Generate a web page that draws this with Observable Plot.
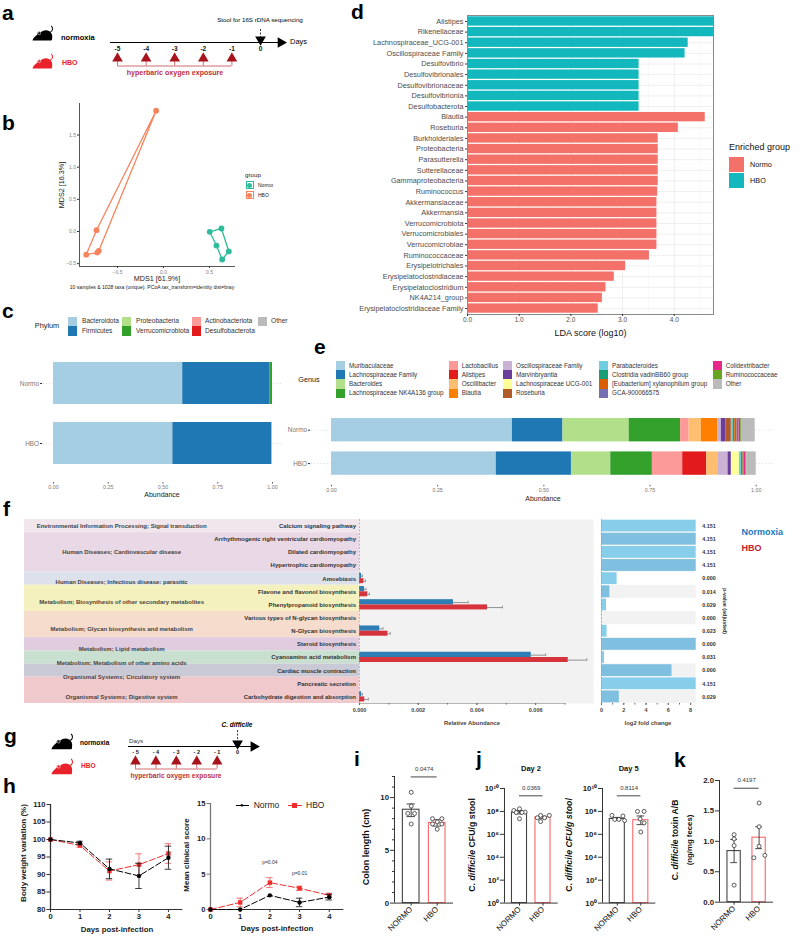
<!DOCTYPE html>
<html><head><meta charset="utf-8">
<script src="https://cdn.jsdelivr.net/npm/d3@7"></script>
<script src="https://cdn.jsdelivr.net/npm/@observablehq/plot@0.6"></script>
<style>
html,body{margin:0;padding:0;background:#fff}
#page{position:relative;width:800px;height:941px;overflow:hidden;font-family:"Liberation Sans",Arial,sans-serif}
.t{position:absolute;white-space:nowrap;line-height:1}
.s{position:absolute;box-sizing:border-box}
</style></head><body><div id="page"></div>
<script>
// ---------- data ----------
const pcoaNormoX=[0.503,0.63,0.71,0.638,0.576], pcoaNormoY=[-0.005,0.047,-0.31,-0.435,-0.218];
const pcoaHboX=[-0.08,-0.728,-0.84,-0.72,-0.703], pcoaHboY=[1.877,0.02,-0.36,-0.327,-0.30];

const phylumTaxa=["Bacteroidota","Firmicutes","Proteobacteria","Verrucomicrobiota","Actinobacteriota","Desulfobacterota","Other"];
const phylumColors=["#A6CEE3","#1F78B4","#B2DF8A","#33A02C","#FB9A99","#E31A1C","#BBBBBB"];
const phylumNormo=[0.59,0.40,0.001,0.009,0,0,0];
const phylumHBO=[0.545,0.452,0,0,0.003,0,0];

const ldaNames=["Alistipes","Rikenellaceae","Lachnospiraceae_UCG-001","Oscillospiraceae Family","Desulfovibrio","Desulfovibrionales","Desulfovibrionaceae","Desulfovibrionia","Desulfobacterota","Blautia","Roseburia","Burkholderiales","Proteobacteria","Parasutterella","Sutterellaceae","Gammaproteobacteria","Ruminococcus","Akkermansiaceae","Akkermansia","Verrucomicrobiota","Verrucomicrobiales","Verrucomicrobiae","Ruminococcaceae","Erysipelotrichales","Erysipelatoclostridiaceae","Erysipelatoclostridium","NK4A214_group","Erysipelatoclostridiaceae Family"];
const ldaScores=[4.76,4.76,4.27,4.21,3.32,3.32,3.32,3.32,3.32,4.6,4.08,3.69,3.69,3.69,3.69,3.69,3.68,3.665,3.665,3.665,3.665,3.665,3.52,3.06,2.84,2.68,2.61,2.53];
const ldaGroups=[...Array(9).fill("HBO"),...Array(19).fill("Normo")];

const genusTaxa=["Muribaculaceae","Lachnospiraceae Family","Bacteroides","Lachnospiraceae NK4A136 group","Lactobacillus","Alistipes","Oscillibacter","Blautia","Oscillospiraceae Family","Marvinbryantia","Lachnospiraceae UCG-001","Roseburia","Parabacteroides","Clostridia vadinBB60 group","[Eubacterium] xylanophilum group","GCA-900066575","Colidextribacter","Ruminococcaceae","Other"];
const genusColors=["#A6CEE3","#1F78B4","#B2DF8A","#33A02C","#FB9A99","#E31A1C","#FDBF6F","#FF7F00","#CAB2D6","#6A3D9A","#FFFF99","#B15928","#6FCFE0","#1B9E77","#D95F02","#7570B3","#E7298A","#66A61E","#BBBBBB"];
const genusNormo=[.426,.119,.156,.121,.020,0,.029,.039,.008,.011,0,.0125,.004,.004,.0055,.0047,.004,.003,.031];
const genusHBO=[.388,.177,.0926,.098,.0714,.0565,.026,0,.0243,.0078,.0188,0,.0047,.004,.001,.001,.005,.002,.022];

const pathGroups=["Environmental Information Processing; Signal transduction","Human Diseases; Cardiovascular disease","Human Diseases; Infectious disease: parasitic","Metabolism; Biosynthesis of other secondary metabolites","Metabolism; Glycan biosynthesis and metabolism","Metabolism; Lipid metabolism","Metabolism; Metabolism of other amino acids","Organismal Systems; Circulatory system","Organismal Systems; Digestive system"];
const pathGroupStart=[0,1,4,5,7,9,10,11,12], pathGroupEnd=[1,4,5,7,9,10,11,12,14];
const pathGroupLabelRow=[0.5,2.5,4.73,6.27,8.35,9.87,10.95,11.99,13.5];
const pathGroupColors=["#F1E6EC","#E9D8E5","#DDE1EC","#F5F1BE","#F5DCCD","#E0CCDE","#C9DFCF","#CACAD6","#EFC9CC"];
const pathways=["Calcium signaling pathway","Arrhythmogenic right ventricular cardiomyopathy","Dilated cardiomyopathy","Hypertrophic cardiomyopathy","Amoebiasis","Flavone and flavonol biosynthesis","Phenylpropanoid biosynthesis","Various types of N-glycan biosynthesis","N-Glycan biosynthesis","Steroid biosynthesis","Cyanoamino acid metabolism","Cardiac muscle contraction","Pancreatic secretion","Carbohydrate digestion and absorption"];
const abundNormo=[0,0,0,0,.00007,.00017,.0032,0,.00069,0,.00585,0,0,.00007];
const abundNormoHi=[0,0,0,0,.0001,.00022,.0037,0,.0008,0,.00634,0,0,.0001];
const abundHBO=[0,0,0,0,.00015,.00028,.00436,0,.00097,0,.00711,0,0,.00018];
const abundHBOHi=[0,0,0,0,.0002,.00034,.00487,0,.00105,0,.00774,0,0,.0003];
const log2fc=[8.5,8.5,8.5,8.5,1.4,.75,.45,.03,.5,8.5,.27,6.33,8.5,1.6];
const pAdj=["4.151","4.151","4.151","4.151","0.000","0.014","0.029","0.000","0.023","0.000","0.031","0.000","4.151","0.029"];

const days=[0,1,2,3,4];
const weightNormo=[100,99,91.6,89.6,94.8], weightNormoErr=[0,.5,2.8,3.6,3.3];
const weightHBO=[100,98.3,91,92.8,96], weightHBOErr=[0,.5,2.6,3.1,2.8];
const clinicalNormo=[0,0,2,1,1.75], clinicalNormoErr=[0,0,0,.6,.4];
const clinicalHBO=[0,1,3.8,3,2], clinicalHBOErr=[0,.6,.7,.3,.3];

const groupNames=["NORMO","HBO"];
const colonBars=[8.85,7.6], colonLow=[8.2,7.3], colonHigh=[9.4,7.9];
const colonNormo=[10.5,9.2,8.5,8.5,7.5], colonNormoJit=[0,0,-.13,.13,0];
const colonHBO=[8,8,7.7,7.5,7.5,7], colonHBOJit=[-.18,.18,0,-.18,.18,0];
const day2Bars=[8e7,3e7], day2Low=[6e7,2.3e7], day2High=[1.2e8,3.8e7];
const day2Normo=[1.7e8,1.2e8,8.7e7,8.1e7,8.1e7,2.3e7], day2NormoJit=[0,-.24,.24,-.14,.11,0];
const day2HBO=[4.5e7,4.5e7,2.8e7,2.8e7,1.3e7], day2HBOJit=[-.1,.27,-.24,.07,-.1];
const day5Bars=[2.2e7,1.7e7], day5Low=[1.8e7,7e6], day5High=[3e7,4e7];
const day5Normo=[4.5e7,4e7,2e7,2e7,1.6e7], day5NormoJit=[-.23,.24,-.11,.07,.31];
const day5HBO=[1e8,1e8,2.2e7,1e7,1.6e6], day5HBOJit=[-.14,.14,-.03,.14,0];
const toxinBars=[.84,1.06], toxinLow=[.65,.88], toxinHigh=[1.03,1.24];
const toxinNormo=[1.11,1.04,.93,.28], toxinNormoJit=[0,0,0,0];
const toxinHBO=[1.63,1.24,.92,.73,.77], toxinHBOJit=[0,0,0,-.21,.23];

const dayTicks=[-5,-4,-3,-2,-1,0];
const exposureDays=[-5,-4,-3,-2,-1];

// ---------- helpers ----------
const FONT='"Liberation Sans",Arial,sans-serif';
const page=document.getElementById("page");
function txt(html,x,y,o={}){
  const {size=7,weight=400,color="#000",anchor="middle",rotate=0}=o;
  const d=document.createElement("div");d.className="t";d.innerHTML=html;
  const tx=anchor==="middle"?"-50%":anchor==="end"?"-100%":"0";
  d.style.cssText+=`left:${x}px;top:${y}px;font-size:${size}px;font-weight:${weight};color:${color};transform:translate(${tx},-50%) rotate(${rotate}deg);`;
  page.appendChild(d);
}
function sw(x,y,w,h,color,border){
  const d=document.createElement("div");d.className="s";
  d.style.cssText+=`left:${x}px;top:${y}px;width:${w}px;height:${h}px;background:${color};${border?`border:1px solid ${border};`:""}`;
  page.appendChild(d);
}
function panel(x0,x1,y0,y1,options,pad={}){
  const l=pad.l??0,r=pad.r??0,t=pad.t??0,b=pad.b??0;
  const svg=Plot.plot({width:x1-x0+l+r,height:y1-y0+t+b,marginLeft:l,marginRight:r,marginTop:t,marginBottom:b,
    style:{background:"transparent",overflow:"visible",fontFamily:FONT,position:"absolute",left:`${x0-l}px`,top:`${y0-t}px`,maxWidth:"none",height:`${y1-y0+t+b}px`},
    ...options});
  page.appendChild(svg);
}
function mouse(x,y,w,color){
  const d=document.createElement("div");d.className="s";d.style.cssText+=`left:${x}px;top:${y}px;width:${w}px;`;
  d.innerHTML=`<svg viewBox="0 0 24 18" width="${w}" style="display:block"><path fill="${color}" d="M0.5 17 C1 14 4 12 6 10 C5.5 7.5 8 6 9.5 8 C12 5.5 16 5 18.5 6.5 C21.5 8 22.5 11 22 14 C22 15.5 22 16.5 21 17 Z"/><path fill="none" stroke="${color}" stroke-width="1.1" d="M20 7.5 C23 6.5 23 3 21 1"/><circle cx="8" cy="9" r="1.5" fill="${color}" stroke="#fff" stroke-width=".6"/></svg>`;
  page.appendChild(d);
}
const zipRows=(names,vals,group)=>names.map((n,i)=>({taxon:n,v:vals[i],group}));

// ---------- timelines ----------
function timeline(x0,x1,axisY,xDomain,labels,lv){
  const levels=[4,-2.2];
  const arrows=exposureDays.map(d=>({d}));
  panel(x0,x1,axisY-22,axisY+40,{
    x:{domain:xDomain,axis:null},y:{domain:levels,axis:null},
    marks:[
      Plot.ruleY([0],{x1:xDomain[0],x2:xDomain[1]-.25,stroke:"#000",strokeWidth:1}),
      Plot.dot([xDomain[1]-.27],{x:d=>d,y:0,symbol:"triangle",rotate:90,r:3,fill:"#000",stroke:"#000"}),
      Plot.ruleX([0],{y1:lv.dash,y2:-.4,stroke:"#000",strokeDasharray:"2,1.5",strokeWidth:.8}),
      Plot.dot([0],{x:d=>d,y:-.3,symbol:"triangle",rotate:180,r:3,fill:"#000",stroke:"#000"}),
      Plot.text(dayTicks,{x:d=>d,y:lv.label,text:d=>labels[dayTicks.indexOf(d)],fontSize:lv.size,fontWeight:700,fill:"#111"}),
      Plot.ruleY([lv.bar],{x1:-5,x2:-1,stroke:"#CF6C72",strokeWidth:1}),
      Plot.ruleX(arrows,{x:"d",y1:lv.tip,y2:lv.bar,stroke:"#CF6C72",strokeWidth:1}),
      Plot.dot(arrows,{x:"d",y:lv.tip+.3,symbol:"triangle",r:3,fill:"#A8141C",stroke:"#A8141C"})
    ]});
}
timeline(110,288,41.5,[-5.245,.979],["-5","-4","-3","-2","-1","0"],{label:.65,tip:1.3,bar:2.35,dash:-1.3,size:6.5});
timeline(128,258.7,746,[-5.343,1.06],["- 5","- 4","- 3","- 2","- 1","0"],{label:.6,tip:1.2,bar:2.25,dash:-1.6,size:5.5});
txt("Stool for 16S rDNA sequencing",260,20,{size:6.2});
txt("Days",290,41.5,{size:7.5,anchor:"start"});
txt("hyperbaric oxygen exposure",175,74,{size:7.1,weight:700,color:"#BE2F3A"});
mouse(32,25,22,"#000");mouse(32,53,22,"#E8212B");
txt("normoxia",61,37.5,{size:7.5,weight:700,anchor:"start"});
txt("HBO",62,62,{size:7,weight:700,color:"#E8212B",anchor:"start"});
txt("Days",129,741,{size:6.2,anchor:"start",color:"#333"});
txt("<b><i>C. difficile</i></b>",237,725,{size:6.5});
txt("hyperbaric oxygen exposure",176,775.7,{size:6.7,weight:700,color:"#BE2F3A"});
mouse(51,733,23,"#000");mouse(51,758,23,"#E8212B");
txt("normoxia",80,743,{size:6.5,weight:700,anchor:"start"});
txt("HBO",81,766,{size:6.5,weight:700,color:"#E8212B",anchor:"start"});

// ---------- b PCoA ----------
const TEAL="#2FBC9A",ORANGE="#F8845D";
const pts=(xs,ys)=>xs.map((x,i)=>({x,y:ys[i]}));
panel(79,235,103,266,{
  x:{domain:[-.913,.783]},y:{domain:[-.544,1.99]},
  marks:[
    Plot.axisX({ticks:[-.5,0,.5],tickFormat:d3.format(".1f"),tickSize:2,tickPadding:2,fontSize:5,color:"#7f7f7f",stroke:"#333",label:null}),
    Plot.axisY({ticks:[-.5,0,.5,1,1.5],tickFormat:d3.format(".1f"),tickSize:2,tickPadding:1.5,fontSize:5,color:"#7f7f7f",stroke:"#333",label:null}),
    Plot.ruleX([-.913],{stroke:"#444",strokeWidth:.9}),
    Plot.ruleY([-.544],{stroke:"#444",strokeWidth:.9}),
    Plot.line(pts(pcoaHboX,pcoaHboY),{x:"x",y:"y",curve:"linear-closed",stroke:ORANGE,strokeWidth:1.3}),
    Plot.dot(pts(pcoaHboX,pcoaHboY),{x:"x",y:"y",r:2.9,fill:ORANGE}),
    Plot.line(pts(pcoaNormoX,pcoaNormoY),{x:"x",y:"y",curve:"linear-closed",stroke:TEAL,strokeWidth:1.3}),
    Plot.dot(pts(pcoaNormoX,pcoaNormoY),{x:"x",y:"y",r:2.9,fill:TEAL})
  ]});
txt("MDS2 [16.3%]",62,185,{size:7.2,rotate:-90,color:"#222"});
txt("MDS1 [61.9%]",157,279,{size:7.2,color:"#222"});
txt("10 samples &amp; 1028 taxa (unique). PCoA tax_transform=identity dist=bray",152,288,{size:5.1,color:"#222"});
txt("group",245,174.5,{size:6.2,anchor:"start",color:"#222"});
sw(245.5,180.7,8.6,8.6,"#fff",TEAL);sw(245.5,190.7,8.6,8.6,"#fff",ORANGE);
[[185,TEAL],[195,ORANGE]].forEach(([y,c])=>{const d=document.createElement("div");d.className="s";d.style.cssText+=`left:247.3px;top:${y-2.5}px;width:5px;height:5px;border-radius:50%;background:${c}`;page.appendChild(d);});
txt("Normo",258,185,{size:5,anchor:"start",color:"#222"});
txt("HBO",258,194.5,{size:5,anchor:"start",color:"#222"});

// ---------- stacked bars (c, e) ----------
function stacked(x0,x1,y0,y1,taxa,colors,normo,hbo,dx,ext){
  const rows=[...zipRows(taxa,normo,"Normo"),...zipRows(taxa,hbo,"HBO")];
  panel(x0,x1,y0,y1,{
    x:{domain:[0,1]},
    y:{domain:["Normo","HBO"],padding:.3,round:false},
    color:{domain:taxa,range:colors},
    marks:[
      Plot.ruleY(["Normo","HBO"],{x1:ext[0],x2:ext[1],stroke:"#c8c8c8",strokeDasharray:"1,2.2",strokeWidth:.7}),
      Plot.barX(rows,{x:"v",y:"group",fill:"taxon"}),
      Plot.axisX({ticks:[0,.25,.5,.75,1],tickFormat:d3.format(".2f"),tickSize:1.5,tickPadding:1.5,fontSize:5.3,color:"#777",stroke:"#555",label:null}),
      Plot.axisY({dx,tickSize:2,tickPadding:1.5,fontSize:6.4,color:"#777",stroke:"#333",label:null})
    ]});
}
stacked(53,272,344,482,phylumTaxa,phylumColors,phylumNormo,phylumHBO,-11,[-.046,1.045]);
txt("Abundance",162,494,{size:7,color:"#222"});
txt("Phylum",47,326,{size:7.3,color:"#222"});
[[68,82,[0,1]],[122,136,[2,3]],[192,205,[4,5]],[258,271,[6]]].forEach(([sx,tx,ids])=>{
  ids.forEach((id,k)=>{sw(sx,316.5+k*9.5,9,9.5,phylumColors[id]);txt(phylumTaxa[id],tx,321+k*9.5,{size:6.6,anchor:"start",color:"#333"});});
});
stacked(331,755.7,408.3,485.1,genusTaxa,genusColors,genusNormo,genusHBO,-21,[-.047,1.045]);
txt("Abundance",543,498,{size:7,color:"#222"});
txt("Genus",309,380,{size:7.3,color:"#222"});
[[336,349,[0,1,2,3]],[449,461.7,[4,5,6,7]],[503,516,[8,9,10,11]],[599,612,[12,13,14,15]],[713,725.7,[16,17,18]]].forEach(([sx,tx,ids])=>{
  ids.forEach((id,k)=>{sw(sx,361+k*9.2,9,9.2,genusColors[id]);txt(genusTaxa[id],tx,365.7+k*9.2,{size:6.3,anchor:"start",color:"#333"});});
});

// ---------- d LDA ----------
const ldaRows=ldaNames.map((n,i)=>({n,v:ldaScores[i],g:ldaGroups[i]}));
panel(467.3,713.3,15.3,314.3,{
  x:{domain:[0,4.76]},
  y:{domain:ldaNames,padding:.12,round:false},
  color:{domain:["Normo","HBO"],range:["#F4716A","#12B8BE"]},
  marks:[
    Plot.ruleX([.5,1.5,2.5,3.5,4.5],{stroke:"#f3f3f3",strokeWidth:.6}),
    Plot.ruleX([0,1,2,3,4],{stroke:"#ebebeb",strokeWidth:.8}),
    Plot.ruleY(ldaNames,{stroke:"#ebebeb",strokeWidth:.8}),
    Plot.barX(ldaRows,{x:"v",y:"n",fill:"g"}),
    Plot.frame({stroke:"#8a8a8a",strokeWidth:1}),
    Plot.axisX({ticks:[0,1,2,3,4],tickSize:2,tickPadding:1,fontSize:6.5,color:"#4d4d4d",stroke:"#333",label:null}),
    Plot.axisY({tickSize:2,tickPadding:2,fontSize:7.3,color:"#4d4d4d",stroke:"#333",label:null})
  ]});
txt("LDA score (log10)",590.5,333,{size:9,color:"#111"});
txt("Enriched group",729,147,{size:9,anchor:"start",color:"#111"});
sw(729,157,15,15,"#F4716A");sw(729,173,15,15,"#12B8BE");
txt("Normo",750,164.5,{size:7.3,anchor:"start",color:"#111"});
txt("HBO",750,180.5,{size:7.3,anchor:"start",color:"#111"});

// ---------- f pathways ----------
const pathRows=pathways.map((p,i)=>({p,i}));
const FY=[14,0];
panel(24,359,518.7,702.7,{
  x:{domain:[0,1],axis:null},y:{domain:FY,axis:null},
  marks:[
    Plot.rect(pathGroups.map((g,i)=>({g,i})),{x1:0,x2:1,y1:d=>pathGroupStart[d.i],y2:d=>pathGroupEnd[d.i],fill:d=>pathGroupColors[d.i]}),
    Plot.text(pathGroups,{x:.29,y:(d,i)=>pathGroupLabelRow[i],text:d=>d,fontSize:6,fontWeight:700,fill:"#444",textAnchor:"middle"}),
    Plot.text(pathRows,{x:.9895,y:d=>d.i+.5,text:"p",fontSize:6,fontWeight:700,fill:"#333",textAnchor:"end"})
  ]});
const mkErr=(m,h,off)=>pathRows.filter(d=>m[d.i]>0).map(d=>({i:d.i,m:m[d.i],h:h[d.i],off}));
const errs=[...mkErr(abundNormo,abundNormoHi,.32),...mkErr(abundHBO,abundHBOHi,.7)];
panel(359,593,518.7,702.7,{
  x:{domain:[0,.00797]},y:{domain:FY,axis:null},
  marks:[
    Plot.frame({fill:"#F2F2F2",stroke:null}),
    Plot.rect(pathRows,{x1:0,x2:d=>abundNormo[d.i],y1:d=>d.i+.1,y2:d=>d.i+.5,fill:"#2E7DB5"}),
    Plot.rect(pathRows,{x1:0,x2:d=>abundHBO[d.i],y1:d=>d.i+.5,y2:d=>d.i+.88,fill:"#D6333D"}),
    Plot.ruleY(errs,{x1:"m",x2:"h",y:d=>d.i+d.off,stroke:"#666",strokeWidth:.7}),
    Plot.ruleX(errs,{x:"h",y1:d=>d.i+d.off-.1,y2:d=>d.i+d.off+.1,stroke:"#666",strokeWidth:.7}),
    Plot.ruleX([0],{stroke:"#999",strokeDasharray:"2,1.5",strokeWidth:.7}),
    Plot.ruleY([14],{x1:0,x2:.007,stroke:"#888",strokeWidth:.6}),
    Plot.axisX({ticks:[0,.001,.002,.003,.004,.005,.006,.007],tickFormat:()=>"",tickSize:1.5,stroke:"#666",label:null}),
    Plot.axisX({ticks:[0,.002,.004,.006],tickFormat:d3.format(".3f"),tickSize:2,tickPadding:3,fontSize:5.5,fontWeight:700,color:"#444",stroke:"#666",label:null})
  ]});
txt("Relative Abundance",472,724,{size:5.9,weight:700,color:"#444"});
panel(601,695.7,518.7,702.7,{
  x:{domain:[0,8.5]},y:{domain:FY,axis:null},
  marks:[
    Plot.rect(pathRows.filter(d=>d.i%2===1),{x1:0,x2:8.5,y1:"i",y2:d=>d.i+1,fill:"#F2F2F2"}),
    Plot.rect(pathRows,{x1:0,x2:d=>log2fc[d.i],y1:d=>d.i+.05,y2:d=>d.i+.95,fill:d=>d.i%2?"#7FBFDF":"#87CEEB"}),
    Plot.ruleX([0],{stroke:"#999",strokeDasharray:"2,1.5",strokeWidth:.7}),
    Plot.axisX({ticks:[0,1,2,3,4,5,6,7,8],tickFormat:()=>"",tickSize:1.5,stroke:"#666",label:null}),
    Plot.axisX({ticks:[0,2,4,6,8],tickFormat:d=>`${d}`,tickSize:2,tickPadding:3,fontSize:5.5,fontWeight:700,color:"#444",stroke:"#666",label:null}),
    Plot.text(pathRows,{x:8.5,dx:6,y:d=>d.i+.5,text:d=>pAdj[d.i],textAnchor:"start",fontSize:5.4,fontWeight:700,fill:"#333"})
  ]});
txt("log2 fold change",648,724,{size:5.9,weight:700,color:"#444"});
txt("p-value (adjusted)",724,610.7,{size:5.4,weight:700,color:"#333",rotate:90});
txt("Normoxia",741.5,532,{size:9,weight:700,color:"#1B78BE",anchor:"start"});
txt("HBO",741.5,547.6,{size:9,weight:700,color:"#C8202E",anchor:"start"});

// ---------- h line charts ----------
const RED="#EE2E2E";
function linePanel(x0,x1,y0,y1,xMax,yDomain,yTicks,normo,normoErr,hbo,hboErr,extra,axisColor){
  const rows=(v,e)=>days.map((d,i)=>({d,v:v[i],e:e[i]}));
  const A=rows(normo,normoErr),B=rows(hbo,hboErr);
  const errMarks=(R,c)=>[
    Plot.ruleX(R.filter(r=>r.e>0),{x:"d",y1:r=>r.v-r.e,y2:r=>r.v+r.e,stroke:c,strokeWidth:.9}),
    Plot.ruleY(R.filter(r=>r.e>0),{x1:r=>r.d-.11,x2:r=>r.d+.11,y:r=>r.v-r.e,stroke:c,strokeWidth:.9}),
    Plot.ruleY(R.filter(r=>r.e>0),{x1:r=>r.d-.11,x2:r=>r.d+.11,y:r=>r.v+r.e,stroke:c,strokeWidth:.9})
  ];
  panel(x0,x1,y0,y1,{
    x:{domain:[0,xMax]},y:{domain:yDomain},
    marks:[
      Plot.ruleX([0],{stroke:axisColor,strokeWidth:1.3}),
      Plot.ruleY([yDomain[0]],{stroke:"#333",strokeWidth:1.1}),
      Plot.axisX({ticks:days,tickFormat:d=>`${d}`,tickSize:3,tickPadding:1.5,fontSize:7.6,fontWeight:700,color:"#222",stroke:"#333",label:null}),
      Plot.axisY({ticks:yTicks,tickFormat:d=>`${d}`,tickSize:3.5,tickPadding:1.5,fontSize:7.6,fontWeight:700,color:"#222",stroke:axisColor,label:null}),
      ...errMarks(B,"#F16A6A"),
      Plot.line(B,{x:"d",y:"v",stroke:RED,strokeWidth:1,strokeDasharray:"6,2.5"}),
      Plot.dot(B,{x:"d",y:"v",symbol:"square",r:2.5,fill:RED}),
      ...errMarks(A,"#222"),
      Plot.line(A,{x:"d",y:"v",stroke:"#000",strokeWidth:1,strokeDasharray:"6,2.5"}),
      Plot.dot(A,{x:"d",y:"v",r:2.2,fill:"#000"}),
      ...extra
    ]});
}
linePanel(50.3,182.7,804,909,4.49,[80,110],[80,85,90,95,100,105,110],weightNormo,weightNormoErr,weightHBO,weightHBOErr,[],"#333");
txt("Days post-infection",117,930,{size:7.8,weight:700,color:"#222"});
txt("Body weight variation (%)",24,853,{size:8,weight:700,rotate:-90,color:"#222"});
const pNotes=[{d:2,y:6.6,t:"p=0.04"},{d:3,y:5.1,t:"p=0.01"}];
linePanel(210,343.3,802.7,908.7,4.49,[0,15],[0,5,10,15],clinicalNormo,clinicalNormoErr,clinicalHBO,clinicalHBOErr,
  [Plot.text(pNotes,{x:"d",y:"y",text:"t",fontSize:5,fill:"#333"})],"#777");
txt("Days post-infection",277,929,{size:7.8,weight:700,color:"#222"});
txt("Mean clinical score",187,855,{size:8,weight:700,rotate:-90,color:"#222"});
sw(236,804.6,13,.9,"#000");sw(288,804.6,14,.9,RED);
txt("●",241.7,805,{size:6,color:"#000"});
sw(291.6,802.6,5,5,RED);
txt("Normo",253.7,805,{size:8.5,anchor:"start",color:"#222"});
txt("HBO",306,805,{size:8.5,anchor:"start",color:"#222"});

// ---------- i, j, k bar panels ----------
function groupPanel(o){
  const bars=[0,1].map(i=>({i,v:o.bars[i],lo:o.low[i],hi:o.high[i],c:i?"#F8686A":"#444"}));
  const ptsN=o.normo.map((v,k)=>({v,x:o.normoJit[k]}));
  const ptsH=o.hbo.map((v,k)=>({v,x:1+o.hboJit[k]}));
  const base=o.y.domain[0];
  const cap=o.half*.5;
  panel(o.x0,o.x1,o.y0,o.y1,{
    x:{domain:o.xDomain},y:o.y,
    marks:[
      Plot.rectY(bars,{x1:d=>d.i-o.half,x2:d=>d.i+o.half,y1:base,y2:"v",fill:"white",stroke:"c",strokeWidth:1.1}),
      Plot.ruleX(bars,{x:"i",y1:"lo",y2:"hi",stroke:"#333",strokeWidth:.9}),
      Plot.ruleY(bars,{x1:d=>d.i-cap,x2:d=>d.i+cap,y:"lo",stroke:"#333",strokeWidth:.9}),
      Plot.ruleY(bars,{x1:d=>d.i-cap,x2:d=>d.i+cap,y:"hi",stroke:"#333",strokeWidth:.9}),
      Plot.dot([...ptsN,...ptsH],{x:"x",y:"v",r:2,stroke:"#333",strokeWidth:.8,fill:"white"}),
      Plot.ruleY([base],{stroke:"#333",strokeWidth:1}),
      Plot.ruleX([o.xDomain[0]],{stroke:"#333",strokeWidth:1}),
      ...(o.minor?[Plot.axisY({ticks:o.minor,tickFormat:()=>"",tickSize:2,stroke:"#333",label:null})]:[]),
      Plot.axisY({ticks:o.ticks,tickFormat:o.fmt,tickSize:4,tickPadding:1.5,fontSize:7.8,fontWeight:700,color:"#222",stroke:"#333",label:null}),
      Plot.axisX({ticks:[0,1],tickFormat:i=>groupNames[i],tickSize:3,tickPadding:2,tickRotate:-45,fontSize:8,color:"#111",stroke:"#333",label:null}),
      Plot.ruleY([o.pY],{x1:0,x2:1,stroke:"#333",strokeWidth:.9}),
      Plot.text([o.pText],{x:.5,y:o.pY,dy:-8,text:d=>d,fontSize:6,fill:"#333"})
    ]});
}
const sup=d=>({1:"10⁰",1e2:"10²",1e4:"10⁴",1e6:"10⁶",1e8:"10⁸",1e10:"10¹⁰"}[d]);
const logY={type:"log",domain:[1,1e10]};
const logTicks=[1,1e2,1e4,1e6,1e8,1e10];
groupPanel({x0:394,x1:453,y0:775.7,y1:902.3,xDomain:[-.642,1.627],half:.32,y:{domain:[0,12]},ticks:[0,5,10],fmt:d=>`${d}`,minor:[1,2,3,4,6,7,8,9,11,12],
  bars:colonBars,low:colonLow,high:colonHigh,normo:colonNormo,normoJit:colonNormoJit,hbo:colonHBO,hboJit:colonHBOJit,pY:11.96,pText:"0.0474"});
groupPanel({x0:504,x1:557.7,y0:787.7,y1:902.3,xDomain:[-.638,1.647],half:.32,y:logY,ticks:logTicks,fmt:sup,
  bars:day2Bars,low:day2Low,high:day2High,normo:day2Normo,normoJit:day2NormoJit,hbo:day2HBO,hboJit:day2HBOJit,pY:2.3e9,pText:"0.0369"});
groupPanel({x0:601.7,x1:655,y0:787.7,y1:902.3,xDomain:[-.63,1.638],half:.32,y:logY,ticks:logTicks,fmt:sup,
  bars:day5Bars,low:day5Low,high:day5High,normo:day5Normo,normoJit:day5NormoJit,hbo:day5HBO,hboJit:day5HBOJit,pY:2.3e9,pText:"0.8114"});
groupPanel({x0:718.7,x1:772.7,y0:780,y1:901.7,xDomain:[-.584,1.576],half:.266,y:{domain:[0,2]},ticks:[0,.5,1,1.5,2],fmt:d3.format(".1f"),
  bars:toxinBars,low:toxinLow,high:toxinHigh,normo:toxinNormo,normoJit:toxinNormoJit,hbo:toxinHBO,hboJit:toxinHBOJit,pY:1.873,pText:"0.4197"});
txt("Colon length (cm)",365.7,847,{size:9,weight:700,rotate:-90,color:"#111"});
txt("C. <i>difficile</i> CFU/g stool",471.7,845,{size:8.8,weight:700,rotate:-90,color:"#111"});
txt("C. <i>difficile CFU/g stool</i>",569,845,{size:8.8,weight:700,rotate:-90,color:"#111"});
txt("C. <i>difficile</i> toxin A/B",675,840,{size:8.6,weight:700,rotate:-90,color:"#111"});
txt("(ng/mg feces)",690,840,{size:7.8,weight:700,rotate:-90,color:"#111"});
txt("Day 2",531,769,{size:7.5,weight:700,color:"#111"});
txt("Day 5",628.7,769,{size:7.5,weight:700,color:"#111"});

// ---------- panel letters ----------
[["a",2,12],["b",2,122],["c",2,310],["d",351,11],["e",314,346],["f",3,508],["g",4,735],["h",3,785],["i",354,758],["j",476,758],["k",674,759]]
  .forEach(([l,x,y])=>txt(l,x,y,{size:21,weight:700,anchor:"start"}));
</script></body></html>
